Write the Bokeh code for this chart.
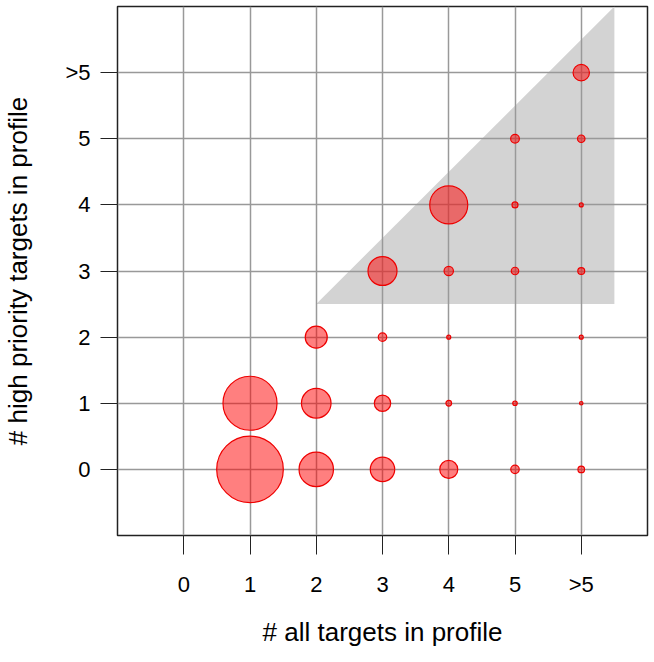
import math
from bokeh.plotting import figure
from bokeh.models import ColumnDataSource, FixedTicker
from bokeh.embed import file_html
from bokeh.resources import INLINE

# Category labels shared by both axes
categories = ["0", "1", "2", "3", "4", "5", ">5"]

# Bubble data: index of "# all targets", index of "# high priority targets", relative count
all_idx = [1, 1, 2, 2, 2, 3, 3, 3, 3, 4, 4, 4, 4, 4, 5, 5, 5, 5, 5, 6, 6, 6, 6, 6, 6, 6]
high_idx = [0, 1, 0, 1, 2, 0, 1, 2, 3, 0, 1, 2, 3, 4, 0, 1, 3, 4, 5, 0, 1, 2, 3, 4, 5, 6]
counts = [1110, 730, 296, 219, 121, 149, 67, 18, 210, 81, 8, 4, 22, 361,
          18, 5, 14, 9, 19, 11, 3, 4, 12, 4, 14, 67]

# Shaded region: high priority >= 3 and high <= all
high_threshold = 3

FONT = "Liberation Sans"
n = len(categories)
x_start, x_end = -1, n
frame_w, frame_h = 530, 529
px_per_unit = frame_w / (x_end - x_start)

p = figure(frame_width=frame_w, frame_height=frame_h,
           x_range=(x_start, x_end), y_range=(-1, n),
           output_backend="svg", toolbar_location=None,
           min_border_left=116, min_border_right=2,
           min_border_top=6, min_border_bottom=111)

p.background_fill_color = "white"
p.border_fill_color = "white"
p.outline_line_color = "#222222"
p.outline_line_width = 1.5

# Shaded triangle region (below grid)
tri_x = [high_threshold - 1, n - 0.5, n - 0.5]
tri_y = [high_threshold - 0.5, high_threshold - 0.5, n]
p.patch(tri_x, tri_y, fill_color="#d3d3d3", line_color=None, level="image")

src = ColumnDataSource(dict(
    x=all_idx, y=high_idx,
    r=[math.sqrt(c) / px_per_unit for c in counts],
))
p.circle(x="x", y="y", radius="r", source=src,
         fill_color="#ff0000", fill_alpha=0.5,
         line_color="#ee0000", line_width=1.2)

ticks = list(range(n))
overrides = {i: lab for i, lab in enumerate(categories)}
for ax in (p.xaxis[0], p.yaxis[0]):
    ax.ticker = FixedTicker(ticks=ticks)
    ax.major_label_overrides = overrides
    ax.minor_tick_line_color = None
    ax.axis_line_color = None
    ax.major_tick_line_color = "#222222"
    ax.major_tick_line_width = 1
    ax.major_tick_in = 0
    ax.major_label_text_font = FONT
    ax.major_label_text_font_size = "22px"
    ax.major_label_text_color = "black"
    ax.axis_label_text_font = FONT
    ax.axis_label_text_font_style = "normal"
    ax.axis_label_text_color = "black"
    ax.axis_label_text_font_size = "26px"

p.xaxis[0].major_tick_out = 19
p.xaxis[0].major_label_standoff = 17
p.xaxis[0].axis_label = "# all targets in profile"
p.xaxis[0].axis_label_standoff = 17

p.yaxis[0].major_tick_out = 17
p.yaxis[0].major_label_standoff = 10
p.yaxis[0].axis_label = "# high priority targets in profile"
p.yaxis[0].axis_label_standoff = 29

for g in (p.xgrid[0], p.ygrid[0]):
    g.ticker = FixedTicker(ticks=ticks)
    g.grid_line_color = "#999999"
    g.grid_line_width = 1.5

open("out.html", "w").write(file_html(p, INLINE))
